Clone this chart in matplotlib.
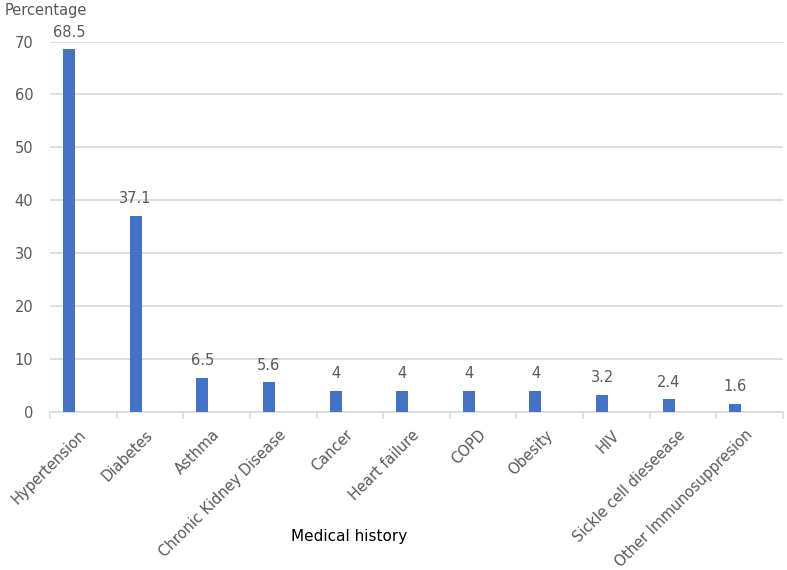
import numpy as np
import matplotlib.pyplot as plt

conditions = ["Hypertension", "Diabetes", "Asthma", "Chronic Kidney Disease", "Cancer",
              "Heart failure", "COPD", "Obesity", "HIV", "Sickle cell dieseease",
              "Other Immunosuppresion"]
percentages = [68.5, 37.1, 6.5, 5.6, 4, 4, 4, 4, 3.2, 2.4, 1.6]
value_labels = ["68.5", "37.1", "6.5", "5.6", "4", "4", "4", "4", "3.2", "2.4", "1.6"]

plt.rcParams['font.family'] = ['DejaVu Sans']
grey = "#595959"

fig = plt.figure(figsize=(7.87, 5.70), dpi=100)
ax = fig.add_axes([50/787, 1 - 412/570, 733/787, 370.5/570])

x = np.arange(len(conditions))
bx = x - 0.215
ax.bar(bx, percentages, width=0.18, color="#4472C4", zorder=3)
for xi, v, lab in zip(bx, percentages, value_labels):
    ax.annotate(lab, (xi, v), xytext=(0, 7), textcoords="offset points",
                ha="center", va="bottom", fontsize=10.5, color=grey, zorder=4)

ax.set_xlim(-0.5, len(conditions) - 0.5)
ax.set_ylim(0, 70)
ax.set_yticks(np.arange(0, 71, 10))
ax.yaxis.grid(True, color="#D9D9D9", linewidth=1.2, zorder=0)
ax.tick_params(axis="y", length=0, labelsize=10.5, labelcolor=grey, pad=12)

# labels sit a little left of the category centre, like the original
ax.set_xticks(x - 0.075)
ax.set_xticklabels(conditions, rotation=45, ha="right", rotation_mode="anchor",
                   fontsize=10.5, color=grey)
ax.set_xticks(np.arange(-0.5, len(conditions), 1), minor=True)
ax.tick_params(axis="x", which="major", length=0, pad=11)
ax.tick_params(axis="x", which="minor", length=5, color="#D9D9D9", width=1.2)

for s in ["top", "right", "left"]:
    ax.spines[s].set_visible(False)
ax.spines["bottom"].set_color("#D9D9D9")
ax.spines["bottom"].set_linewidth(1.2)

fig.text(5/787, 1 - 10/570, "Percentage", fontsize=10.5, color=grey, va="center", ha="left")
fig.text(349/787, 1 - 537/570, "Medical history", fontsize=11, color="black", va="center", ha="center")

fig.savefig("out.png", dpi=100)
